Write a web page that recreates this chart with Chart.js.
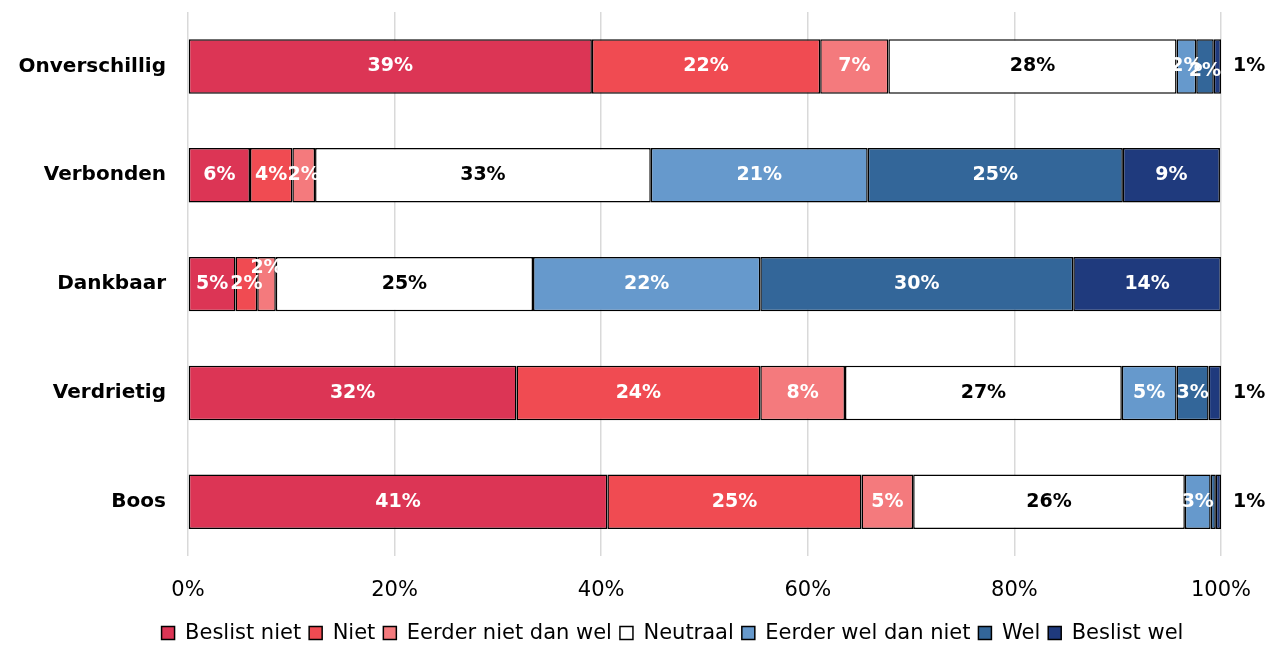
<!DOCTYPE html>
<html>
<head>
<meta charset="utf-8">
<script src="https://cdn.jsdelivr.net/npm/chart.js@4/dist/chart.umd.min.js"></script>
<style>
  html, body { margin: 0; padding: 0; background: #fff; }
  #wrap { width: 1270px; height: 645px; position: relative; }
</style>
</head>
<body>
<div id="wrap"><canvas id="c" width="1270" height="645"></canvas></div>
<script>
const categories = ['Onverschillig', 'Verbonden', 'Dankbaar', 'Verdrietig', 'Boos'];
const seriesNames = ['Beslist niet', 'Niet', 'Eerder niet dan wel', 'Neutraal', 'Eerder wel dan niet', 'Wel', 'Beslist wel'];
const beslistNiet = [39.1, 6.0, 4.6, 31.8, 40.6];
const niet        = [22.1, 4.1, 2.1, 23.6, 24.6];
const eerderNiet  = [6.6, 2.2, 1.8, 8.2, 5.0];
const neutraal    = [27.9, 32.5, 24.9, 26.8, 26.3];
const eerderWel   = [1.9, 21.0, 22.0, 5.3, 2.5];
const wel         = [1.7, 24.7, 30.3, 3.1, 0.5];
const beslistWel  = [0.7, 9.4, 14.3, 1.2, 0.5];
const xTicks = ['0%', '20%', '40%', '60%', '80%', '100%'];

const colors = ['#DC3555', '#F04B52', '#F47A7D', '#FFFFFF', '#6699CC', '#336699', '#1F3A7D'];
const labelColors = ['#fff', '#fff', '#fff', '#000', '#fff', '#fff', '#fff'];
const seriesValues = [beslistNiet, niet, eerderNiet, neutraal, eerderWel, wel, beslistWel];
const FONT = '"DejaVu Sans", sans-serif';

const datasets = seriesNames.map((n, i) => ({
  label: n,
  data: seriesValues[i],
  backgroundColor: colors[i],
  borderColor: '#000',
  borderWidth: 1.5,
  borderSkipped: false,
  barPercentage: 0.5,
  categoryPercentage: 1.0
}));

const labelPlugin = {
  id: 'labels',
  afterLayout(chart) {
    // legend is centred a little right of the canvas centre in the original
    chart.legend.left += 62;
    chart.legend.right += 62;
  },
  afterDatasetsDraw(chart) {
    const ctx = chart.ctx;
    ctx.save();
    ctx.font = 'bold 19px ' + FONT;
    ctx.textBaseline = 'middle';
    const n = chart.data.labels.length;
    for (let j = 0; j < n; j++) {
      let prevRight = -Infinity;
      chart.data.datasets.forEach((ds, i) => {
        const v = ds.data[j];
        const el = chart.getDatasetMeta(i).data[j];
        const txt = Math.round(v) + '%';
        const last = i === chart.data.datasets.length - 1;
        if (last && v < 3) {
          ctx.fillStyle = '#000';
          ctx.textAlign = 'left';
          ctx.fillText(txt, Math.max(el.x, el.base) + 12, el.y);
          return;
        }
        if (v < 1) return;
        const cx = (el.x + el.base) / 2;
        const w = ctx.measureText(txt).width;
        let y = el.y;
        if (prevRight - (cx - w / 2) > 12) {
          y += (i < 4) ? -16 : 5;
        }
        prevRight = cx + w / 2;
        ctx.fillStyle = labelColors[i];
        ctx.textAlign = 'center';
        ctx.fillText(txt, cx, y);
      });
    }
    ctx.restore();
  }
};

new Chart(document.getElementById('c'), {
  type: 'bar',
  data: { labels: categories, datasets },
  options: {
    indexAxis: 'y',
    responsive: false,
    animation: false,
    layout: { padding: { top: 12, right: 49, left: 0, bottom: -8.6 } },
    scales: {
      x: {
        stacked: true,
        min: 0, max: 100,
        ticks: {
          stepSize: 20,
          color: '#000',
          font: { family: FONT, size: 21 },
          padding: 22,
          callback: (v, idx) => xTicks[idx]
        },
        grid: { color: '#d9d9d9', lineWidth: 1.5, drawTicks: false },
        border: { display: false },
        afterFit(s) { s.height = 58.4; s.paddingRight = 0; s.paddingLeft = 0; }
      },
      y: {
        stacked: true,
        ticks: {
          color: '#000',
          font: { family: FONT, size: 20, weight: 'bold' },
          padding: 22
        },
        grid: { display: false, drawTicks: false },
        border: { display: false },
        afterFit(s) { s.width = 188; s.paddingTop = 0; s.paddingBottom = 0; }
      }
    },
    plugins: {
      legend: {
        position: 'bottom',
        labels: {
          color: '#000',
          font: { family: FONT, size: 21 },
          boxWidth: 13,
          boxHeight: 13,
          padding: 8,
          generateLabels(chart) {
            return chart.data.datasets.map((ds, i) => ({
              text: ds.label,
              fillStyle: ds.backgroundColor,
              strokeStyle: '#000',
              lineWidth: 1.5,
              datasetIndex: i,
              hidden: false
            }));
          }
        }
      },
      tooltip: { enabled: false }
    }
  },
  plugins: [labelPlugin]
});
</script>
</body>
</html>
